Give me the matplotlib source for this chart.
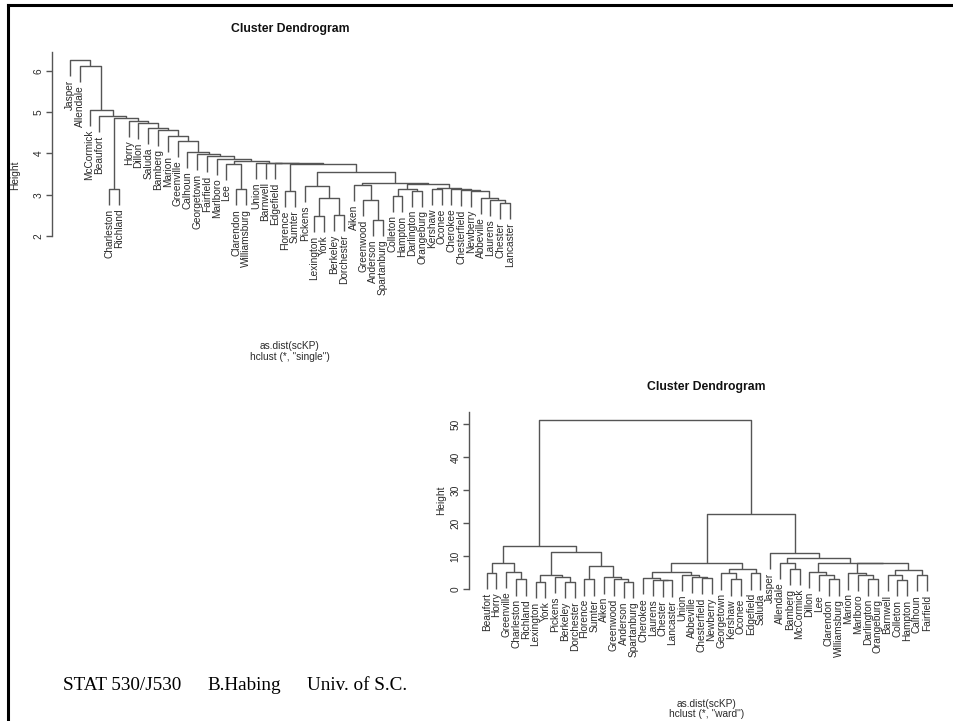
import matplotlib
matplotlib.use("Agg")
import matplotlib.pyplot as plt
from matplotlib.lines import Line2D

# ---------------- data ----------------
# Single linkage dendrogram: merge i joins single_a[i] and single_b[i] at single_h[i]
# (names are counties, "sK" refers to the K-th merge, 1-based)
single_a = ["Chester", "Laurens", "Abbeville", "Newberry", "Chesterfield", "Cherokee",
            "Kershaw", "s7", "Colleton", "Darlington", "s9", "s11",
            "Anderson", "Greenwood", "Aiken", "s15", "Lexington", "Berkeley", "s17",
            "Pickens", "s20", "Florence", "s22", "Edgefield", "Barnwell", "Union",
            "Clarendon", "Lee", "s28", "Marlboro", "Fairfield", "Georgetown", "Calhoun",
            "Greenville", "Marion", "Bamberg", "Saluda", "Dillon", "Horry",
            "Charleston", "s40", "Beaufort", "McCormick", "Allendale", "Jasper"]
single_b = ["Lancaster", "s1", "s2", "s3", "s4", "s5",
            "Oconee", "s6", "Hampton", "Orangeburg", "s10", "s8",
            "Spartanburg", "s13", "s14", "s12", "York", "Dorchester", "s18",
            "s19", "s16", "Sumter", "s21", "s23", "s24", "s25",
            "Williamsburg", "s27", "s26", "s29", "s30", "s31", "s32",
            "s33", "s34", "s35", "s36", "s37", "s38",
            "Richland", "s39", "s41", "s42", "s43", "s44"]
single_h = [2.81, 2.87, 2.92, 3.10, 3.12, 3.14,
            3.13, 3.16, 2.97, 3.10, 3.13, 3.27,
            2.39, 2.87, 3.24, 3.29, 2.48, 2.51, 2.93,
            3.22, 3.56, 3.09, 3.74, 3.76, 3.77, 3.78,
            3.13, 3.74, 3.82, 3.86, 3.94, 3.98, 4.04,
            4.30, 4.42, 4.57, 4.62, 4.74, 4.79,
            3.13, 4.85, 4.91, 5.05, 6.12, 6.27]

# Ward dendrogram
ward_a = ["Beaufort", "Charleston", "Greenville", "w1", "Lexington", "Berkeley", "Pickens",
          "w5", "Florence", "Anderson", "Greenwood", "Aiken", "w9", "w8", "w4",
          "Chester", "Laurens", "Cherokee", "Chesterfield", "Abbeville", "Union", "w18",
          "Kershaw", "Georgetown", "Edgefield", "w24", "w22",
          "Bamberg", "Allendale", "Clarendon", "Lee", "Dillon", "Darlington", "Marlboro",
          "Marion", "Colleton", "Barnwell", "Calhoun", "w37", "w35", "w32", "w29",
          "Jasper", "w27", "w15"]
ward_b = ["Horry", "Richland", "w2", "w3", "York", "Dorchester", "w6",
          "w7", "Sumter", "Spartanburg", "w10", "w11", "w12", "w13", "w14",
          "Lancaster", "w16", "w17", "Newberry", "w19", "w20", "w21",
          "Oconee", "w23", "Saluda", "w25", "w26",
          "McCormick", "w28", "Williamsburg", "w30", "w31", "Orangeburg", "w33",
          "w34", "Hampton", "w36", "Fairfield", "w38", "w39", "w40", "w41",
          "w42", "w43", "w44"]
ward_h = [5.0, 3.0, 5.3, 8.1, 2.3, 2.3, 3.8,
          4.3, 3.0, 2.2, 3.0, 3.6, 7.1, 11.2, 13.1,
          2.7, 2.9, 3.4, 3.4, 3.7, 4.4, 5.2,
          3.0, 4.8, 4.8, 6.2, 8.1,
          6.1, 8.1, 3.0, 4.3, 5.3, 3.0, 4.4,
          4.8, 2.8, 4.3, 4.3, 5.8, 7.9, 8.1, 9.6,
          11.1, 22.7, 51.4]

single_ticks = [2, 3, 4, 5, 6]
ward_ticks = [0, 10, 20, 30, 40, 50]

# ---------------- figure ----------------
W, H = 954, 721
fig = plt.figure(figsize=(W / 100, H / 100), dpi=100)

LINE = "#555555"
TXT = "#2a2a2a"
SANS = ["Liberation Sans", "DejaVu Sans"]
SERIF = ["Liberation Serif", "DejaVu Serif"]


def fx(x):
    return x / W


def fy(y):
    return 1 - y / H


def make_axes(left, right, top, bottom):
    return fig.add_axes([fx(left), fy(bottom), (right - left) / W, (bottom - top) / H])


def draw_dendro(ax, a, b, h, prefix, ylim, ticks):
    n_merge = len(h)
    hang = 0.1 * (max(h) - min(h))
    children = {}
    for i in range(n_merge):
        children[f"{prefix}{i + 1}"] = (a[i], b[i], h[i])
    root = f"{prefix}{n_merge}"
    order = []

    def walk(node):
        if node in children:
            l, r, _ = children[node]
            walk(l)
            walk(r)
        else:
            order.append(node)

    walk(root)
    pos = {name: i + 1 for i, name in enumerate(order)}
    xs = {}

    def center(node):
        if node in children:
            if node not in xs:
                l, r, _ = children[node]
                xs[node] = (center(l) + center(r)) / 2
            return xs[node]
        return pos[node]

    for i in range(n_merge):
        node = f"{prefix}{i + 1}"
        l, r, hh = children[node]
        xl, xr = center(l), center(r)
        yl = children[l][2] if l in children else hh - hang
        yr = children[r][2] if r in children else hh - hang
        ax.plot([xl, xl, xr, xr], [yl, hh, hh, yr], color=LINE, lw=1.0,
                solid_capstyle="butt", clip_on=False)
        for leaf, y in ((l, yl), (r, yr)):
            if leaf not in children:
                ax.annotate(leaf, xy=(pos[leaf], y), xytext=(0, -2.5),
                            textcoords="offset points", rotation=90,
                            ha="center", va="top", fontsize=7.3,
                            family=SANS, color=TXT, annotation_clip=False)
    n = len(order)
    ax.set_xlim(1 - 0.04 * (n - 1), n + 0.04 * (n - 1))
    ax.set_ylim(*ylim)
    for s in ("top", "right", "bottom"):
        ax.spines[s].set_visible(False)
    ax.spines["left"].set_color(LINE)
    ax.spines["left"].set_linewidth(1.0)
    ax.spines["left"].set_bounds(ticks[0], ylim[1])
    ax.set_xticks([])
    ax.set_yticks(ticks)
    ax.set_yticklabels([str(t) for t in ticks], rotation=90, va="center",
                       fontsize=7.3, family=SANS, color=TXT)
    ax.tick_params(axis="y", length=4.3, width=1.0, color=LINE, pad=2)
    ax.patch.set_visible(False)


# top: single linkage
ax1 = make_axes(52.4, 527.6, 52, 243)
draw_dendro(ax1, single_a, single_b, single_h, "s", (1.83, 6.46), single_ticks)

# bottom right: ward
ax2 = make_axes(469.1, 944.3, 412, 605)
draw_dendro(ax2, ward_a, ward_b, ward_h, "w", (-4.76, 53.73), ward_ticks)

# titles and annotations
fig.text(fx(290), fy(29), "Cluster Dendrogram", ha="center", va="center",
         fontsize=8.8, fontweight="bold", family=SANS, color="#111111")
fig.text(fx(15), fy(175), "Height", rotation=90, ha="center", va="center",
         fontsize=7.3, family=SANS, color=TXT)
fig.text(fx(290), fy(346), "as.dist(scKP)", ha="center", va="center",
         fontsize=7.3, family=SANS, color=TXT)
fig.text(fx(290), fy(357), 'hclust (*, "single")', ha="center", va="center",
         fontsize=7.3, family=SANS, color=TXT)

fig.text(fx(706), fy(387), "Cluster Dendrogram", ha="center", va="center",
         fontsize=8.8, fontweight="bold", family=SANS, color="#111111")
fig.text(fx(441), fy(500), "Height", rotation=90, ha="center", va="center",
         fontsize=7.3, family=SANS, color=TXT)
fig.text(fx(707), fy(704), "as.dist(scKP)", ha="center", va="center",
         fontsize=7.3, family=SANS, color=TXT)
fig.text(fx(707), fy(714), 'hclust (*, "ward")', ha="center", va="center",
         fontsize=7.3, family=SANS, color=TXT)

# footer
fig.text(fx(63), fy(685), "STAT 530/J530", ha="left", va="center",
         fontsize=13.8, family=SERIF, color="black")
fig.text(fx(207), fy(685), "B.Habing", ha="left", va="center",
         fontsize=13.8, family=SERIF, color="black")
fig.text(fx(307), fy(685), "Univ. of S.C.", ha="left", va="center",
         fontsize=13.8, family=SERIF, color="black")

# slide border
fig.add_artist(Line2D([fx(8), fx(954)], [fy(5), fy(5)], color="black", lw=2.2,
                      transform=fig.transFigure))
fig.add_artist(Line2D([fx(8), fx(8)], [fy(5), fy(721)], color="black", lw=2.2,
                      transform=fig.transFigure))

fig.savefig("out.png", dpi=100)
